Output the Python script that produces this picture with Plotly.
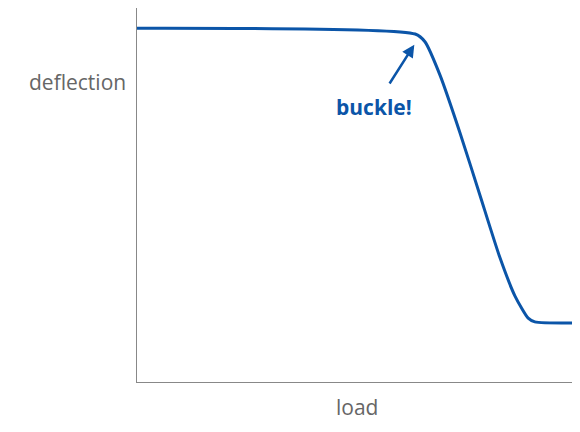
import plotly.graph_objects as go

load = [0, 62.8, 65, 68.4, 72.9, 77.4, 81.9, 85.3, 88.3, 89.8, 99.5]
deflection = [94.5, 92.9, 90.8, 81.7, 66, 49, 32, 21.5, 15.4, 14.4, 14.1]

blue = "#0b55a8"
fig = go.Figure(go.Scatter(x=load, y=deflection, mode="lines", line=dict(color=blue, width=3, shape="spline", smoothing=0.6)))
fig.update_layout(
    width=572, height=424, margin=dict(l=129, r=0, t=0, b=50),
    plot_bgcolor="white", paper_bgcolor="white", showlegend=False,
    font=dict(family="Open Sans", color="#666"),
    xaxis=dict(range=[0, 100], showticklabels=False, showgrid=False, zeroline=False,
               showline=True, linecolor="#888", linewidth=1, ticks=""),
    yaxis=dict(range=[-2, 100], showticklabels=False, showgrid=False, zeroline=False,
               showline=True, linecolor="#888", linewidth=1, ticks=""),
    annotations=[
        dict(text="deflection", xref="paper", yref="paper", x=-0.02, y=(374-74)/374,
             xanchor="right", yanchor="middle", showarrow=False, font=dict(size=21, color="#666")),
        dict(text="load", xref="paper", yref="paper", x=(349-129)/443, y=-0.025,
             xanchor="center", yanchor="top", showarrow=False, font=dict(size=21, color="#666")),
        dict(text="<b>buckle!</b>", x=53.6, y=73, xref="x", yref="y", showarrow=False,
             font=dict(size=21, color=blue)),
        dict(text="", x=62.6, y=90, ax=56.8, ay=79, xref="x", yref="y", axref="x", ayref="y",
             showarrow=True, arrowhead=2, arrowsize=1, arrowwidth=2.5, arrowcolor=blue),
    ],
)
fig.write_html("out.html")
